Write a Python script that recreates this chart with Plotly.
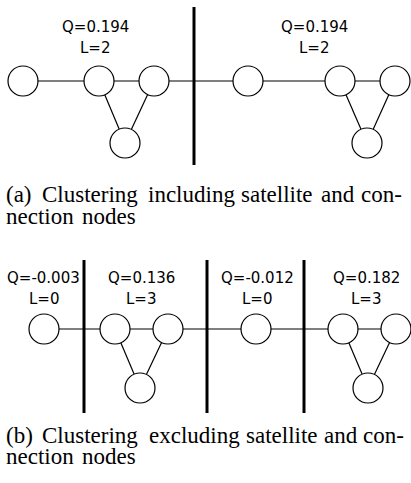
import plotly.graph_objects as go

W, H = 411, 483

# Panel (a) graph
a_node_x = [23, 99, 154, 125, 248, 340, 395, 367]
a_node_y = [81, 81, 81, 143, 81, 81, 81, 143]
a_edges = [(0, 1), (1, 2), (2, 4), (4, 5), (5, 6), (1, 3), (2, 3), (5, 7), (6, 7)]
a_sep_x = [194]
a_sep_y = [7, 165]
a_q_labels = ["Q=0.194", "Q=0.194"]
a_l_labels = ["L=2", "L=2"]
a_label_x = [95, 314]
a_label_y = [26.5, 47.5]

# Panel (b) graph
b_node_x = [44, 115, 168, 140, 256, 343, 396, 368]
b_node_y = [329, 329, 329, 388, 329, 329, 329, 388]
b_edges = [(0, 1), (1, 2), (2, 4), (4, 5), (5, 6), (1, 3), (2, 3), (5, 7), (6, 7)]
b_sep_x = [84, 207, 304]
b_sep_y = [260, 413]
b_q_labels = ["Q=-0.003", "Q=0.136", "Q=-0.012", "Q=0.182"]
b_l_labels = ["L=0", "L=3", "L=0", "L=3"]
b_label_x = [43.5, 141, 257, 366]
b_label_y = [278, 299]

# Captions (justified: each word placed separately)
cap_a1_words = ["(a)", "Clustering", "including", "satellite", "and", "con-"]
cap_a1_x = [5, 41, 146.5, 240, 320, 360]
cap_a2_words = ["nection", "nodes"]
cap_a2_x = [5, 81]
cap_b1_words = ["(b)", "Clustering", "excluding", "satellite", "and", "con-"]
cap_b1_x = [5, 41, 148, 245, 322.5, 362]
cap_b2_words = ["nection", "nodes"]
cap_b2_x = [5, 81]
cap_line_y = [194.5, 216, 435, 456.5]

fig = go.Figure()


def add_graph(nx, ny, edges, sep_x, sep_y):
    ex, ey = [], []
    for i, j in edges:
        ex += [nx[i], nx[j], None]
        ey += [ny[i], ny[j], None]
    fig.add_trace(go.Scatter(x=ex, y=ey, mode="lines",
                             line=dict(color="black", width=1.2),
                             hoverinfo="skip", showlegend=False))
    sx, sy = [], []
    for x in sep_x:
        sx += [x, x, None]
        sy += [sep_y[0], sep_y[1], None]
    fig.add_trace(go.Scatter(x=sx, y=sy, mode="lines",
                             line=dict(color="black", width=3),
                             hoverinfo="skip", showlegend=False))
    fig.add_trace(go.Scatter(x=nx, y=ny, mode="markers",
                             marker=dict(size=30, color="white",
                                         line=dict(color="black", width=1.2)),
                             hoverinfo="skip", showlegend=False))


add_graph(a_node_x, a_node_y, a_edges, a_sep_x, a_sep_y)
add_graph(b_node_x, b_node_y, b_edges, b_sep_x, b_sep_y)

label_font = dict(family="DejaVu Sans", size=15, color="black")


def add_labels(qs, ls, xs, ys):
    for q, l, x in zip(qs, ls, xs):
        fig.add_annotation(x=x, y=ys[0], text=q, showarrow=False,
                           xanchor="center", yanchor="middle", font=label_font)
        fig.add_annotation(x=x, y=ys[1], text=l, showarrow=False,
                           xanchor="center", yanchor="middle", font=label_font)


add_labels(a_q_labels, a_l_labels, a_label_x, a_label_y)
add_labels(b_q_labels, b_l_labels, b_label_x, b_label_y)

cap_font = dict(family="Liberation Serif", size=23, color="black")
for words, xs, y in [(cap_a1_words, cap_a1_x, cap_line_y[0]),
                     (cap_a2_words, cap_a2_x, cap_line_y[1]),
                     (cap_b1_words, cap_b1_x, cap_line_y[2]),
                     (cap_b2_words, cap_b2_x, cap_line_y[3])]:
    for w, x in zip(words, xs):
        fig.add_annotation(x=x, y=y, text=w, showarrow=False,
                           xanchor="left", yanchor="middle",
                           borderpad=0, font=cap_font)

fig.update_xaxes(range=[0, W], visible=False, fixedrange=True)
fig.update_yaxes(range=[H, 0], visible=False, fixedrange=True)
fig.update_layout(width=W, height=H,
                  margin=dict(l=0, r=0, t=0, b=0),
                  plot_bgcolor="white", paper_bgcolor="white")

fig.write_html("out.html", config={"displayModeBar": False},
               post_script="document.body.style.margin='0';"
                           "document.body.style.overflow='hidden';")
